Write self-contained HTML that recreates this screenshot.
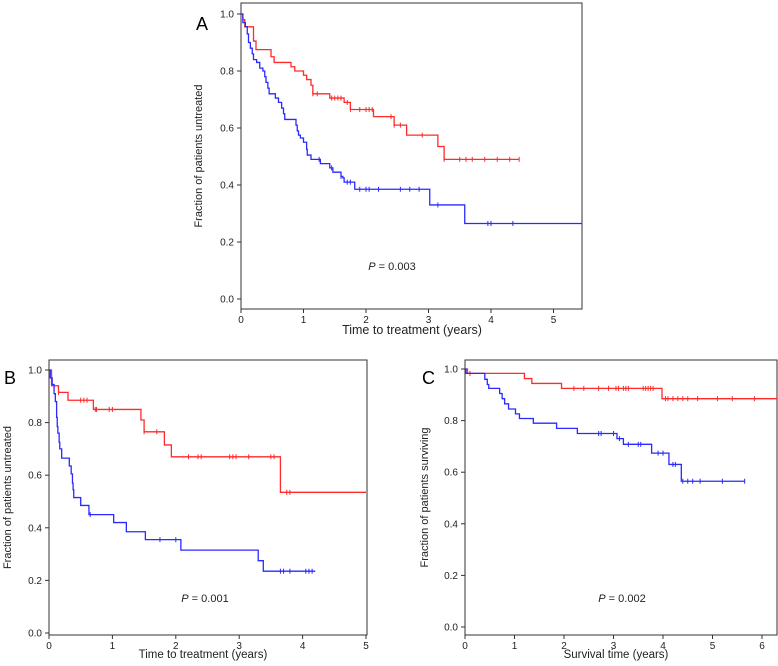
<!DOCTYPE html>
<html><head><meta charset="utf-8"><style>
body{margin:0;background:#fff}
svg{display:block;font-family:"Liberation Sans",Arial,sans-serif}
</style></head><body>
<svg id="fig" width="778" height="666" viewBox="0 0 778 666"></svg>
<script>
// Panel A data
const aRedT=[0,0.03,0.06,0.2,0.24,0.48,0.53,0.8,0.86,1.0,1.05,1.12,1.15,1.42,1.65,1.75,2.12,2.45,2.65,3.15,3.25];
const aRedS=[1,0.98,0.955,0.905,0.875,0.85,0.83,0.815,0.8,0.785,0.77,0.75,0.72,0.705,0.69,0.665,0.64,0.61,0.575,0.535,0.49];
const aRedEnd=4.45;
const aRedCens=[1.15,1.22,1.45,1.5,1.55,1.6,1.7,1.75,1.9,2.0,2.05,2.1,2.4,2.45,2.55,2.9,3.25,3.5,3.6,3.7,3.9,4.1,4.3,4.45];
const aBlueT=[0,0.03,0.07,0.1,0.12,0.15,0.18,0.2,0.25,0.3,0.35,0.38,0.4,0.43,0.45,0.55,0.6,0.65,0.68,0.7,0.88,0.9,0.92,0.95,1.0,1.05,1.06,1.12,1.27,1.42,1.47,1.6,1.63,1.65,1.82,3.02,3.58];
const aBlueS=[1,0.97,0.955,0.93,0.9,0.88,0.86,0.84,0.83,0.81,0.8,0.78,0.76,0.74,0.72,0.705,0.69,0.67,0.65,0.63,0.61,0.59,0.575,0.565,0.55,0.525,0.505,0.49,0.475,0.46,0.445,0.43,0.425,0.41,0.385,0.33,0.265];
const aBlueEnd=5.5;
const aBlueCens=[1.25,1.45,1.6,1.7,1.75,1.9,2.0,2.05,2.2,2.55,2.7,2.85,3.15,3.95,4.0,4.35];
// Panel B data
const bRedT=[0,0.04,0.15,0.3,0.7,1.45,1.5,1.82,1.93,3.65];
const bRedS=[1,0.94,0.915,0.885,0.85,0.81,0.765,0.715,0.67,0.535];
const bRedEnd=5.0;
const bRedCens=[0.15,0.5,0.55,0.6,0.73,0.75,0.95,1.0,1.5,1.7,2.2,2.35,2.4,2.85,2.9,2.95,3.15,3.5,3.55,3.75,3.8];
const bBlueT=[0,0.02,0.05,0.08,0.1,0.12,0.13,0.14,0.16,0.17,0.2,0.32,0.35,0.37,0.38,0.39,0.5,0.63,1.02,1.22,1.52,2.08,3.3,3.38];
const bBlueS=[1,0.97,0.945,0.91,0.88,0.82,0.785,0.76,0.725,0.7,0.665,0.635,0.605,0.57,0.545,0.515,0.485,0.45,0.42,0.385,0.355,0.315,0.275,0.235];
const bBlueEnd=4.2;
const bBlueCens=[0.65,1.75,2.0,3.65,3.7,3.8,4.05,4.1,4.15];
// Panel C data
const cRedT=[0,0.05,1.2,1.35,1.95,3.98];
const cRedS=[1,0.983,0.963,0.944,0.925,0.885];
const cRedEnd=6.3;
const cRedCens=[0.1,2.2,2.4,2.7,2.9,3.05,3.1,3.2,3.25,3.3,3.6,3.65,3.7,3.75,3.8,4.05,4.1,4.2,4.3,4.4,4.5,4.7,5.1,5.4,5.85];
const cBlueT=[0,0.02,0.4,0.45,0.48,0.7,0.75,0.8,0.88,1.02,1.1,1.38,1.85,2.27,3.07,3.2,3.77,4.12,4.37];
const cBlueS=[1,0.983,0.96,0.94,0.925,0.905,0.885,0.865,0.845,0.826,0.808,0.79,0.77,0.75,0.73,0.708,0.674,0.63,0.565];
const cBlueEnd=5.65;
const cBlueCens=[2.7,2.75,3.0,3.12,3.3,3.5,3.55,3.9,4.0,4.2,4.25,4.4,4.5,4.6,4.75,5.2,5.65];
const yTicks=["0.0","0.2","0.4","0.6","0.8","1.0"];

const NS="http://www.w3.org/2000/svg";
const svg=document.getElementById('fig');
function mk(tag,attrs,parent){const e=document.createElementNS(NS,tag);for(const k in attrs)e.setAttribute(k,attrs[k]);(parent||svg).appendChild(e);return e;}

function panel(p){
  const g=mk('g',{});
  
  
  const X=t=>p.x0+t*p.px;
  const Y=s=>p.y0-s*(p.y0-p.y1);
  const frame=mk('rect',{x:p.left,y:p.top,width:p.right-p.left,height:p.bottom-p.top,fill:'none',stroke:'#333','stroke-width':1},g);
  
  
  yTicks.forEach(lbl=>{
    const v=parseFloat(lbl);
    mk('line',{x1:p.left-4,x2:p.left,y1:Y(v),y2:Y(v),stroke:'#333'},g);
    const t=mk('text',{x:p.left-7,y:Y(v)+3.5,'font-size':10,'text-anchor':'end',fill:'#222'},g);
    t.textContent=lbl;
    
    
  });
  for(let i=0;i<=p.xmax;i++){
    mk('line',{x1:X(i),x2:X(i),y1:p.bottom,y2:p.bottom+4,stroke:'#333'},g);
    const t=mk('text',{x:X(i),y:p.bottom+14,'font-size':10,'text-anchor':'middle',fill:'#222'},g);
    t.textContent=String(i);
    
    
  }
  const xt=mk('text',{x:p.xtx,y:p.xty,'font-size':p.xfs,'text-anchor':'middle',fill:'#222'},g);
  xt.textContent=p.xtitle;
  
  
  const yt=mk('text',{x:0,y:0,'font-size':11,'text-anchor':'middle',fill:'#222',transform:`translate(${p.ytx},${(p.top+p.bottom)/2}) rotate(-90)`},g);
  yt.textContent=p.ytitle;
  
  
  const lab=mk('text',{x:p.lx,y:p.ly,'font-size':18,fill:'#000'},g);
  lab.textContent=p.id;
  
  
  const pv=mk('text',{x:p.px_,y:p.py_,'font-size':11,'text-anchor':'middle',fill:'#222'},g);
  pv.innerHTML='<tspan font-style="italic">P</tspan> = '+p.pval;
  
  
  p.series.forEach(s=>{
    let d='M'+X(s.T[0])+','+Y(s.S[0]);
    for(let i=1;i<s.T.length;i++){d+=' H'+X(s.T[i])+' V'+Y(s.S[i]);}
    d+=' H'+Math.min(X(s.end),p.right);
    const path=mk('path',{d:d,fill:'none',stroke:s.color,'stroke-width':1.3},g);
    
    
    s.C.forEach(c=>{
      let v=s.S[0];
      for(let i=0;i<s.T.length;i++){if(s.T[i]<=c)v=s.S[i];}
      const m=mk('line',{x1:X(c),x2:X(c),y1:Y(v)-2.5,y2:Y(v)+2.5,stroke:s.color,'stroke-width':1},g);
      
      
    });
  });
}
panel({id:'A',left:241,right:582,top:3,bottom:309,x0:241,px:62.5,y0:299,y1:14,xmax:5,
  xtitle:'Time to treatment (years)',xtx:412,xty:334,xfs:12.5,ytitle:'Fraction of patients untreated',ytx:202,
  lx:196,ly:30,px_:392,py_:270,pval:'0.003',
  series:[{name:'red',color:'#ff2a2a',T:aRedT,S:aRedS,end:aRedEnd,C:aRedCens},{name:'blue',color:'#2a2aff',T:aBlueT,S:aBlueS,end:aBlueEnd,C:aBlueCens}]});
panel({id:'B',left:49,right:367,top:360,bottom:635,x0:49,px:63.4,y0:633,y1:370,xmax:5,
  xtitle:'Time to treatment (years)',xtx:203,xty:658,xfs:11.5,ytitle:'Fraction of patients untreated',ytx:11,
  lx:4,ly:384,px_:205,py_:602,pval:'0.001',
  series:[{name:'red',color:'#ff2a2a',T:bRedT,S:bRedS,end:bRedEnd,C:bRedCens},{name:'blue',color:'#2a2aff',T:bBlueT,S:bBlueS,end:bBlueEnd,C:bBlueCens}]});
panel({id:'C',left:465,right:777,top:360,bottom:635,x0:465,px:49.5,y0:627,y1:369,xmax:6,
  xtitle:'Survival time (years)',xtx:616,xty:658,xfs:11.5,ytitle:'Fraction of patients surviving',ytx:428,
  lx:422,ly:384,px_:622,py_:602,pval:'0.002',
  series:[{name:'red',color:'#ff2a2a',T:cRedT,S:cRedS,end:cRedEnd,C:cRedCens},{name:'blue',color:'#2a2aff',T:cBlueT,S:cBlueS,end:cBlueEnd,C:cBlueCens}]});
</script>
</body></html>
